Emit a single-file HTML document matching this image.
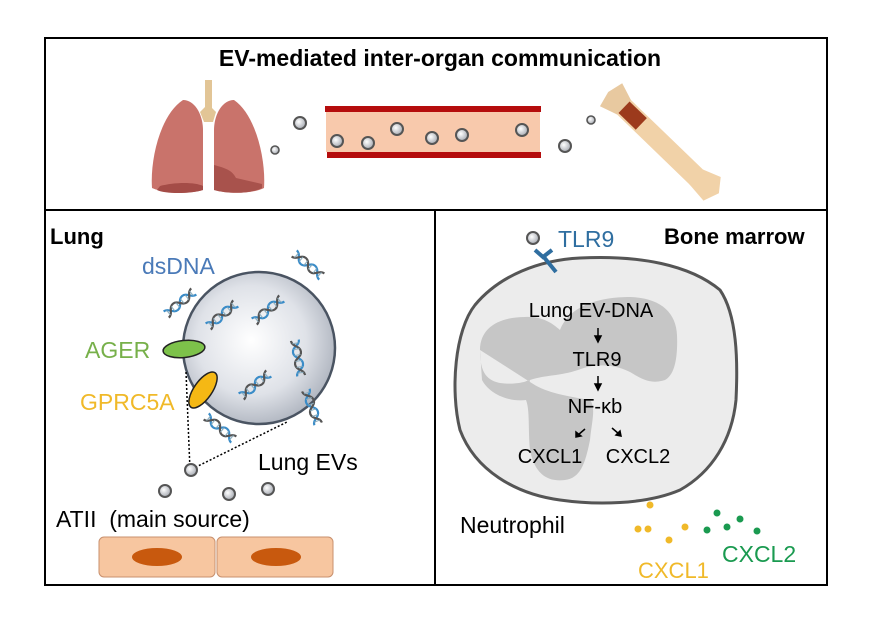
<!DOCTYPE html>
<html><head><meta charset="utf-8"><style>
html,body{margin:0;padding:0;background:#fff;}
svg{display:block;font-family:"Liberation Sans",Arial,sans-serif;}
</style></head><body>
<svg width="869" height="633" viewBox="0 0 869 633" xmlns="http://www.w3.org/2000/svg">
<defs>
<radialGradient id="ev" cx="0.4" cy="0.4" r="0.6"><stop offset="0" stop-color="#ffffff"/><stop offset="1" stop-color="#a8acb4"/></radialGradient>
<radialGradient id="big" cx="0.45" cy="0.45" r="0.6"><stop offset="0" stop-color="#ffffff"/><stop offset="0.6" stop-color="#dfe2e8"/><stop offset="1" stop-color="#aab0bb"/></radialGradient>
<g id="dna">
<path d="M-18,-4 C-12,-4 -12,4 -6,4 C0,4 0,-4 6,-4 C12,-4 12,4 18,4" fill="none" stroke="#3a8cc8" stroke-width="2.2"/>
<path d="M-18,4 C-12,4 -12,-4 -6,-4 C0,-4 0,4 6,4 C12,4 12,-4 18,-4" fill="none" stroke="#555" stroke-width="2.2"/>
<g stroke="#8ab" stroke-width="1"><line x1="-15" y1="-3" x2="-15" y2="3"/><line x1="-9" y1="-3" x2="-9" y2="3"/><line x1="-3" y1="-3" x2="-3" y2="3"/><line x1="3" y1="-3" x2="3" y2="3"/><line x1="9" y1="-3" x2="9" y2="3"/><line x1="15" y1="-3" x2="15" y2="3"/></g>
</g>
<g id="evs"><circle r="6" fill="url(#ev)" stroke="#555" stroke-width="2"/></g>
</defs>

<rect x="45" y="38" width="782" height="547" fill="none" stroke="#000" stroke-width="2"/>
<line x1="45" y1="210" x2="827" y2="210" stroke="#000" stroke-width="2"/>
<line x1="435" y1="210" x2="435" y2="585" stroke="#000" stroke-width="2"/>

<text x="440" y="66" font-size="23" font-weight="bold" text-anchor="middle">EV-mediated inter-organ communication</text>

<!-- lungs -->
<path d="M205,80 h7 v35 l-7,0z" fill="#e2c596"/>
<path d="M200,112 L208,104 L216,112 L213,122 L204,122z" fill="#e2c596"/>
<path d="M183,100 C195,100 203,115 203,130 L203,190 C190,194 165,194 152,188 C150,160 160,115 183,100z" fill="#c9736b"/>
<path d="M234,100 C222,100 214,115 214,130 L214,190 C228,194 252,194 264,188 C266,160 256,115 234,100z" fill="#c9736b"/>
<path d="M160,186 C175,182 195,182 203,186 L203,190 C190,194 165,194 157,190z" fill="#a44c47"/>
<path d="M214,165 C225,168 232,170 236,178 L262,184 L262,188 C250,194 228,194 214,190z" fill="#a8524c"/>

<!-- vessel -->
<rect x="326" y="112" width="214" height="40" fill="#f8c9ac"/>
<rect x="325" y="106" width="216" height="6" fill="#b50d0d"/>
<rect x="327" y="152" width="214" height="6" fill="#b50d0d"/>
<use href="#evs" x="337" y="141"/><use href="#evs" x="368" y="143"/><use href="#evs" x="397" y="129"/>
<use href="#evs" x="432" y="138"/><use href="#evs" x="462" y="135"/><use href="#evs" x="522" y="130"/>
<use href="#evs" x="300" y="123"/><use href="#evs" x="565" y="146"/>
<circle cx="275" cy="150" r="4" fill="url(#ev)" stroke="#555" stroke-width="1.6"/>
<circle cx="591" cy="120" r="4" fill="url(#ev)" stroke="#555" stroke-width="1.6"/>

<!-- bone -->
<g transform="translate(660,142) rotate(44)">
<rect x="-52" y="-10" width="104" height="20" fill="#f1d2a8"/>
<path d="M-68,-16 L-50,-10 L-50,10 L-68,16 L-72,0z" fill="#e8c9a0"/>
<path d="M50,-10 L68,-17 L78,-4 L72,12 L50,10z" fill="#f1d2a8"/>
<rect x="-50" y="-8" width="24" height="16" fill="#9c3a1c"/>
</g>

<!-- Lung panel -->
<text x="50" y="244" font-size="22" font-weight="bold">Lung</text>
<text x="142" y="274" font-size="23" fill="#4a7ab8">dsDNA</text>
<circle cx="259" cy="348" r="76" fill="url(#big)" stroke="#4a5462" stroke-width="2.5"/>
<use href="#dna" transform="translate(180,303) rotate(-40)"/>
<use href="#dna" transform="translate(222,315) rotate(-40)"/>
<use href="#dna" transform="translate(268,310) rotate(-40)"/>
<use href="#dna" transform="translate(308,265) rotate(40)"/>
<use href="#dna" transform="translate(298,358) rotate(80)"/>
<use href="#dna" transform="translate(255,385) rotate(-40)"/>
<use href="#dna" transform="translate(312,407) rotate(70)"/>
<use href="#dna" transform="translate(220,428) rotate(40)"/>
<ellipse cx="184" cy="349" rx="21" ry="8.5" transform="rotate(-6 184 349)" fill="#7dc24a" stroke="#222" stroke-width="1.5"/>
<ellipse cx="203" cy="390" rx="21" ry="9" transform="rotate(-55 203 390)" fill="#f5b814" stroke="#222" stroke-width="1.5"/>
<text x="85" y="358" font-size="23" fill="#77b04a">AGER</text>
<text x="80" y="410" font-size="23" fill="#f0b929">GPRC5A</text>
<polyline points="186,372 190,470 287,422" fill="none" stroke="#000" stroke-width="1.5" stroke-dasharray="2,2"/>
<use href="#evs" x="191" y="470"/><use href="#evs" x="165" y="491"/><use href="#evs" x="229" y="494"/><use href="#evs" x="268" y="489"/>
<text x="258" y="470" font-size="23">Lung EVs</text>
<text x="56" y="527" font-size="23" xml:space="preserve">ATII  (main source)</text>
<rect x="99" y="537" width="116" height="40" rx="5" fill="#f7c6a0" stroke="#c8906e"/>
<rect x="217" y="537" width="116" height="40" rx="5" fill="#f7c6a0" stroke="#c8906e"/>
<ellipse cx="157" cy="557" rx="25" ry="9" fill="#c8590e"/>
<ellipse cx="276" cy="557" rx="25" ry="9" fill="#c8590e"/>

<!-- Bone marrow panel -->
<text x="664" y="244" font-size="22" font-weight="bold">Bone marrow</text>
<path d="M475,305 C500,275 540,260 580,258 C640,255 690,265 720,290 C737,315 738,360 736,400 C732,440 712,472 680,490 C645,505 595,505 560,500 C515,494 475,470 460,430 C450,390 455,330 475,305z" fill="#ececec" stroke="#555" stroke-width="3"/>
<path d="M480,350 C480,327 500,317 525,317 C545,316 555,326 560,330 C570,305 600,297 630,297 C660,298 676,312 677,335 C678,360 674,375 665,380 C650,385 640,378 630,372 C610,362 590,365 578,370 C560,376 545,375 530,380 C520,382 518,390 526,400 C530,410 528,430 530,450 C535,475 548,482 565,480 C580,478 585,465 590,440 C592,420 596,408 590,400 C560,395 545,392 530,382z" fill="#c6c6c6"/>
<path d="M480,350 C480,370 485,380 500,383 C515,385 525,382 530,380 L526,400 C510,402 490,395 482,380z" fill="#c6c6c6"/>
<text x="591" y="317" font-size="20" text-anchor="middle">Lung  EV-DNA</text>
<text x="597" y="366" font-size="20" text-anchor="middle">TLR9</text>
<text x="595" y="413" font-size="20" text-anchor="middle">NF-κb</text>
<text x="550" y="463" font-size="20" text-anchor="middle">CXCL1</text>
<text x="638" y="463" font-size="20" text-anchor="middle">CXCL2</text>
<g stroke="#000" stroke-width="1.5" fill="#000">
<line x1="598" y1="328" x2="598" y2="338"/><path d="M595,336 L598,342 L601,336z"/>
<line x1="598" y1="376" x2="598" y2="386"/><path d="M595,384 L598,390 L601,384z"/>
<line x1="585" y1="429" x2="578" y2="435"/><path d="M576,432 L576,437 L581,436z"/>
<line x1="612" y1="428" x2="619" y2="434"/><path d="M616,435 L621,436 L620,431z"/>
</g>
<line x1="543" y1="256" x2="556" y2="272" stroke="#2f6ea0" stroke-width="4"/>
<path d="M535,250 L543,257 L552,250" fill="none" stroke="#2f6ea0" stroke-width="4"/>
<circle cx="533" cy="238" r="6" fill="url(#ev)" stroke="#555" stroke-width="2"/>
<text x="558" y="247" font-size="23" fill="#2f6ea0">TLR9</text>
<text x="460" y="533" font-size="23">Neutrophil</text>
<g fill="#f0b929"><circle cx="650" cy="505" r="3.5"/><circle cx="638" cy="529" r="3.5"/><circle cx="648" cy="529" r="3.5"/><circle cx="685" cy="527" r="3.5"/><circle cx="669" cy="540" r="3.5"/></g>
<g fill="#1a9a50"><circle cx="717" cy="513" r="3.5"/><circle cx="707" cy="530" r="3.5"/><circle cx="727" cy="527" r="3.5"/><circle cx="740" cy="519" r="3.5"/><circle cx="757" cy="531" r="3.5"/></g>
<text x="638" y="578" font-size="22" fill="#f0b929">CXCL1</text>
<text x="722" y="562" font-size="23" fill="#1a9a50">CXCL2</text>
</svg>
</body></html>
